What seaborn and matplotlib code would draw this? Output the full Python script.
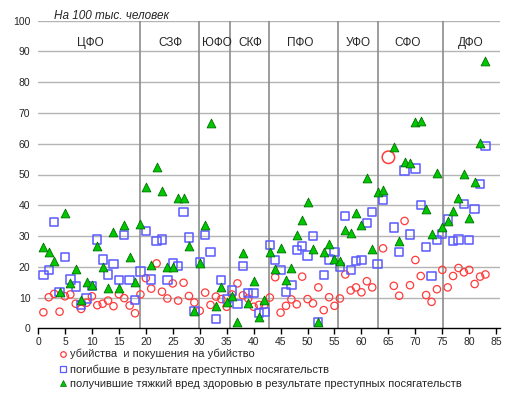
import numpy as np
import matplotlib
matplotlib.use('Agg')
import matplotlib.pyplot as plt
import seaborn as sns
from matplotlib.lines import Line2D

nan = np.nan

# region numbers 1..83
regions = list(range(1, 84))

# убийства и покушения на убийство
murders = [5.2, 10.1, 11.2, 5.4, 10.4, 11.0, 8.0, 6.3, 8.3, 10.4,
           7.5, 8.0, 9.0, 7.2, 11.1, 9.8, 7.4, 4.9, 11.0, 16.3,
           12.9, 21.1, 11.9, 9.7, 14.6, 9.0, 14.8, 10.5, 8.4, 5.7,
           11.6, 7.6, 10.3, 9.5, 7.0, 11.0, 14.6, 10.7, 9.7, 7.0,
           7.6, 7.6, 10.0, 16.6, 5.1, 7.3, 9.4, 7.8, 16.8, 9.5,
           8.1, 13.3, 5.9, 10.1, 7.3, 9.7, 17.5, 12.3, 13.3, 11.7,
           15.3, 13.3, nan, 26.0, 55.6, 13.8, 10.6, 34.9, 14.0, 22.2,
           17.0, 10.8, 8.6, 12.7, 19.0, 13.3, 17.0, 19.6, 18.2, 19.0,
           14.4, 16.8, 17.5]

# погибшие в результате преступных посягательств
killed = [17.3, 18.9, 34.5, 11.9, 23.1, 15.9, 13.6, 7.6, 9.7, 13.8,
          28.9, 22.4, 17.5, 20.8, 15.7, 30.3, 15.7, 9.1, 18.5, 31.7,
          15.9, 28.4, 28.9, 15.7, 21.1, 20.3, 37.8, 29.5, 5.6, 21.5,
          30.3, 24.9, 3.0, 15.7, 9.5, 12.3, 7.9, 20.3, 11.4, 11.4,
          5.0, 5.3, 27.0, 22.2, 19.0, 11.7, 14.0, 25.5, 26.7, 23.7,
          29.9, 2.1, 17.3, 22.4, 24.9, 20.0, 36.5, 19.0, 21.9, 22.3,
          34.2, 37.9, 20.8, 41.7, nan, 32.8, 24.8, 51.3, 30.5, 52.0,
          40.1, 26.5, 17.0, 28.7, 30.7, 35.4, 28.4, 28.9, 40.4, 28.7,
          38.8, 46.9, 59.3]

# получившие тяжкий вред здоровью
injured = [26.5, 24.9, 22.0, 11.9, 37.4, 14.8, 19.2, 9.2, 15.2, 14.1,
           26.8, 19.8, 13.0, 31.2, 13.0, 33.5, 23.1, 15.0, 33.8, 45.8,
           20.5, 52.3, 44.7, 20.0, 20.0, 42.5, 42.3, 26.8, 5.6, 21.1,
           33.7, 66.6, 7.1, 13.3, 8.6, 10.4, 2.2, 24.6, 8.1, 15.5,
           3.6, 9.3, 24.9, 19.2, 26.0, 15.6, 19.5, 30.3, 35.3, 40.9,
           25.7, 2.2, 24.8, 27.4, 22.5, 21.9, 32.1, 31.1, 37.4, 33.5,
           49.0, 25.9, 44.4, 45.1, nan, 59.1, 28.3, 54.2, 53.9, 67.2,
           67.5, 38.9, 30.8, 50.6, 33.0, 35.0, 38.2, 42.4, 50.1, 36.0,
           47.7, 60.2, 87.0]

districts = ['ЦФО', 'СЗФ', 'ЮФО', 'СКФ', 'ПФО', 'УФО', 'СФО', 'ДФО']
district_pos = [9.7, 24.5, 33.2, 39.3, 48.6, 59.4, 68.5, 80.3]
dividers = [18.9, 29.9, 35.6, 42.8, 55.6, 63.0, 75.1]
highlight = 65

labels = ['убийства  и покушения на убийство',
          'погибшие в результате преступных посягательств',
          'получившие тяжкий вред здоровью в результате преступных посягательств']

RED = '#ff3b3b'
BLUE = '#5a5aff'
GREEN = '#00c800'
GREEN_EDGE = '#007000'

sns.set_style('white')
plt.rcParams['font.family'] = ['Liberation Sans', 'DejaVu Sans']

fig = plt.figure(figsize=(5.23, 3.93), dpi=100)
ax = fig.add_axes([38 / 523, 1 - 328.3 / 393, 462 / 523, 307.6 / 393])

for v in range(10, 101, 10):
    ax.axhline(v, color='#b4b4b4', lw=1, zorder=0)
for d in dividers:
    ax.axvline(d, color='#8c8c8c', lw=1.2, zorder=0.5)

reg = np.array(regions)
m = np.array(murders)
normal = reg != highlight

# murders, the highlighted region drawn bigger
sns.scatterplot(x=reg[normal], y=m[normal], marker='o', s=28, ax=ax, zorder=2)
ax.collections[-1].set_facecolor('none')
ax.collections[-1].set_edgecolor(RED)
ax.collections[-1].set_linewidth(0.9)

sns.scatterplot(x=reg[~normal], y=m[~normal], marker='o', s=80, ax=ax, zorder=2)
ax.collections[-1].set_facecolor('none')
ax.collections[-1].set_edgecolor(RED)
ax.collections[-1].set_linewidth(1.1)

sns.scatterplot(x=regions, y=killed, marker='s', s=36, ax=ax, zorder=3)
ax.collections[-1].set_facecolor('none')
ax.collections[-1].set_edgecolor(BLUE)
ax.collections[-1].set_linewidth(1.1)

sns.scatterplot(x=regions, y=injured, marker='^', s=40, ax=ax, zorder=4,
                color=GREEN, edgecolor=GREEN_EDGE, linewidth=0.6)

for name, xp in zip(districts, district_pos):
    ax.text(xp, 92.7, name, ha='center', va='center', fontsize=8.5)

ax.text(3.0, 101.6, 'На 100 тыс. человек', fontstyle='italic',
        fontsize=8.5, ha='left', va='center', clip_on=False)

ax.set_xlim(0, 85.7)
ax.set_ylim(0, 100)
ax.set_xticks(range(0, 86, 5))
ax.set_yticks(range(0, 101, 10))
ax.tick_params(axis='x', direction='out', length=4, width=1, color='black',
               labelsize=7.5, pad=2.5, bottom=True)
ax.tick_params(axis='y', length=0, labelsize=7.5, pad=5.5)
for side in ['top', 'right', 'left']:
    ax.spines[side].set_visible(False)
ax.spines['bottom'].set_color('black')
ax.spines['bottom'].set_linewidth(1)
ax.set_xlabel('')
ax.set_ylabel('')

handles = [
    Line2D([], [], ls='none', marker='o', ms=4, mfc='none', mec=RED, mew=0.9),
    Line2D([], [], ls='none', marker='s', ms=4.5, mfc='none', mec=BLUE, mew=0.9),
    Line2D([], [], ls='none', marker='^', ms=5, mfc=GREEN, mec=GREEN_EDGE, mew=0.5),
]
fig.legend(handles, labels, loc='upper left', bbox_to_anchor=(60 / 523, 1 - 349 / 393),
           frameon=False, fontsize=8, handlelength=0.6, handletextpad=0.3,
           labelspacing=0.42, borderpad=0, borderaxespad=0)

plt.savefig('out.png', dpi=100)
plt.close()
